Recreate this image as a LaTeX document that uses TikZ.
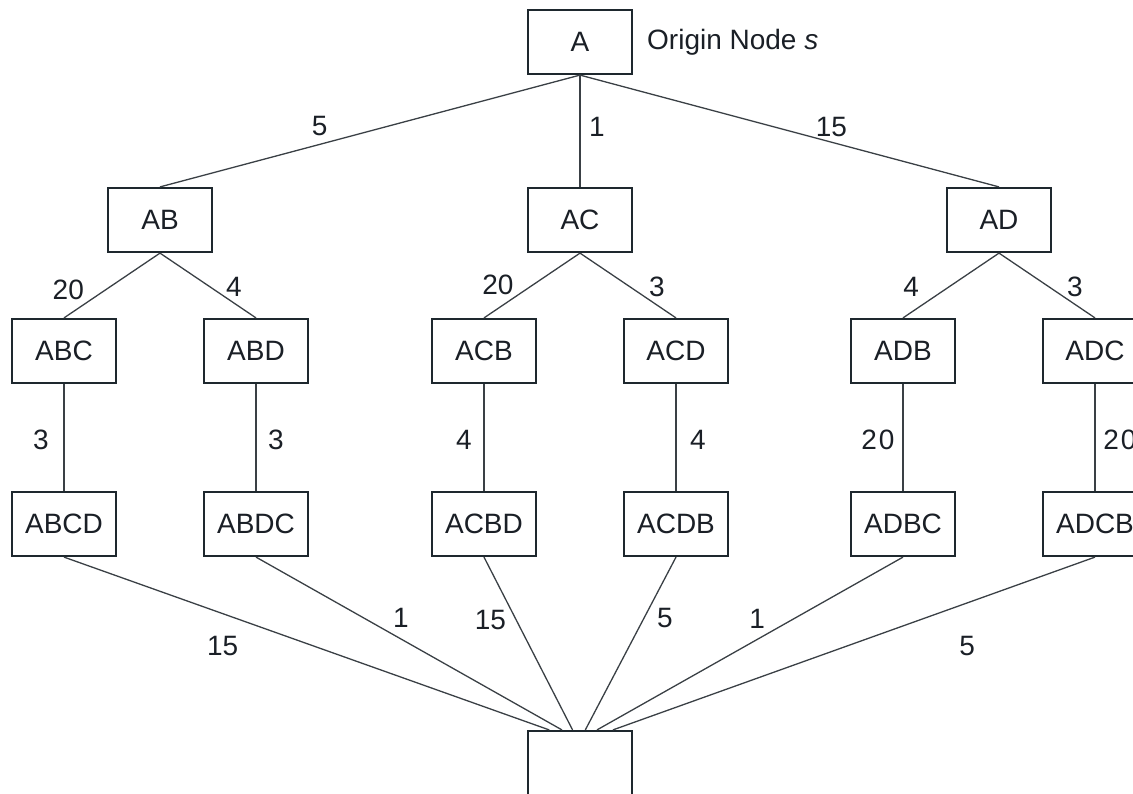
\documentclass[tikz,border=0pt]{standalone}
\usepackage{fontspec}
\setmainfont{Liberation Sans}
\usetikzlibrary{calc}
\definecolor{boxline}{HTML}{1E282E}
\definecolor{edgeline}{HTML}{3A4045}
\definecolor{ink}{HTML}{1A1F26}
\begin{document}
\begin{tikzpicture}[x=1pt,y=-1pt,
  state/.style={draw=boxline, line width=2.2pt, minimum width=104pt, minimum height=64pt,
                inner sep=0pt, fill=white, text=ink, font=\fontsize{28}{32}\selectfont},
  link/.style={draw=edgeline, line width=1.3pt},
  cost/.style={text=ink, font=\fontsize{28}{32}\selectfont, inner sep=0pt}]
\useasboundingbox (0,0) rectangle (1133,793);

% tour-building tree, level by level
\node[state] (A)    at (580,42)  {A};
\node[anchor=west, text=ink, font=\fontsize{28}{32}\selectfont, inner sep=0pt] (origin) at (647,42) {Origin Node \textit{s}};

\node[state] (AB)   at (160,220) {AB};
\node[state] (AC)   at (580,220) {AC};
\node[state] (AD)   at (999,220) {AD};

\node[state] (ABC)  at (64,351)   {ABC};
\node[state] (ABD)  at (256,351)  {ABD};
\node[state] (ACB)  at (484,351)  {ACB};
\node[state] (ACD)  at (676,351)  {ACD};
\node[state] (ADB)  at (903,351)  {ADB};
\node[state] (ADC)  at (1095,351) {ADC};

\node[state] (ABCD) at (64,524)   {ABCD};
\node[state] (ABDC) at (256,524)  {ABDC};
\node[state] (ACBD) at (484,524)  {ACBD};
\node[state] (ACDB) at (676,524)  {ACDB};
\node[state] (ADBC) at (903,524)  {ADBC};
\node[state] (ADCB) at (1095,524) {ADCB};

\node[state] (T)    at (580,763)  {};

% entry points spread along the top of the closing node
\coordinate (t1) at ($(T.north west)!0.21!(T.north east)$);
\coordinate (t2) at ($(T.north west)!0.33!(T.north east)$);
\coordinate (t3) at ($(T.north west)!0.43!(T.north east)$);
\coordinate (t4) at ($(T.north west)!0.55!(T.north east)$);
\coordinate (t5) at ($(T.north west)!0.66!(T.north east)$);
\coordinate (t6) at ($(T.north west)!0.81!(T.north east)$);

% first leg
\draw[link] (A.south) -- node[cost, pos=0.62, yshift=18pt] {5} (AB.north);
\draw[link] (A.south) -- node[cost, pos=0.46, xshift=17pt] {1} (AC.north);
\draw[link] (A.south) -- node[cost, pos=0.60, yshift=15pt] {15} (AD.north);

% second leg
\draw[link] (AB.south) -- node[cost, pos=0.57, xshift=-37pt] {20} (ABC.north);
\draw[link] (AB.south) -- node[cost, pos=0.52, xshift=24pt] {4} (ABD.north);
\draw[link] (AC.south) -- node[cost, pos=0.49, xshift=-35pt] {20} (ACB.north);
\draw[link] (AC.south) -- node[cost, pos=0.52, xshift=27pt] {3} (ACD.north);
\draw[link] (AD.south) -- node[cost, pos=0.52, xshift=-38pt] {4} (ADB.north);
\draw[link] (AD.south) -- node[cost, pos=0.52, xshift=26pt] {3} (ADC.north);

% third leg
\draw[link] (ABC.south) -- node[cost, pos=0.52, xshift=-23pt] {3} (ABCD.north);
\draw[link] (ABD.south) -- node[cost, pos=0.52, xshift=20pt] {3} (ABDC.north);
\draw[link] (ACB.south) -- node[cost, pos=0.52, xshift=-20pt] {4} (ACBD.north);
\draw[link] (ACD.south) -- node[cost, pos=0.52, xshift=22pt] {4} (ACDB.north);
\draw[link] (ADB.south) -- node[cost, pos=0.52, xshift=-25pt] {2\kern2pt0} (ADBC.north);
\draw[link] (ADC.south) -- node[cost, pos=0.52, xshift=25pt] {2\kern2pt0} (ADCB.north);

% return leg
\draw[link] (ABCD.south) -- node[cost, pos=0.327, yshift=-32pt] {15} (t1);
\draw[link] (ABDC.south) -- node[cost, pos=0.474, yshift=21pt] {1} (t2);
\draw[link] (ACBD.south) -- node[cost, pos=0.366, xshift=-26pt] {15} (t3);
\draw[link] (ACDB.south) -- node[cost, pos=0.354, xshift=21pt] {5} (t4);
\draw[link] (ADBC.south) -- node[cost, pos=0.477, yshift=21pt] {1} (t5);
\draw[link] (ADCB.south) -- node[cost, pos=0.265, yshift=-43pt] {5} (t6);
\end{tikzpicture}
\end{document}
